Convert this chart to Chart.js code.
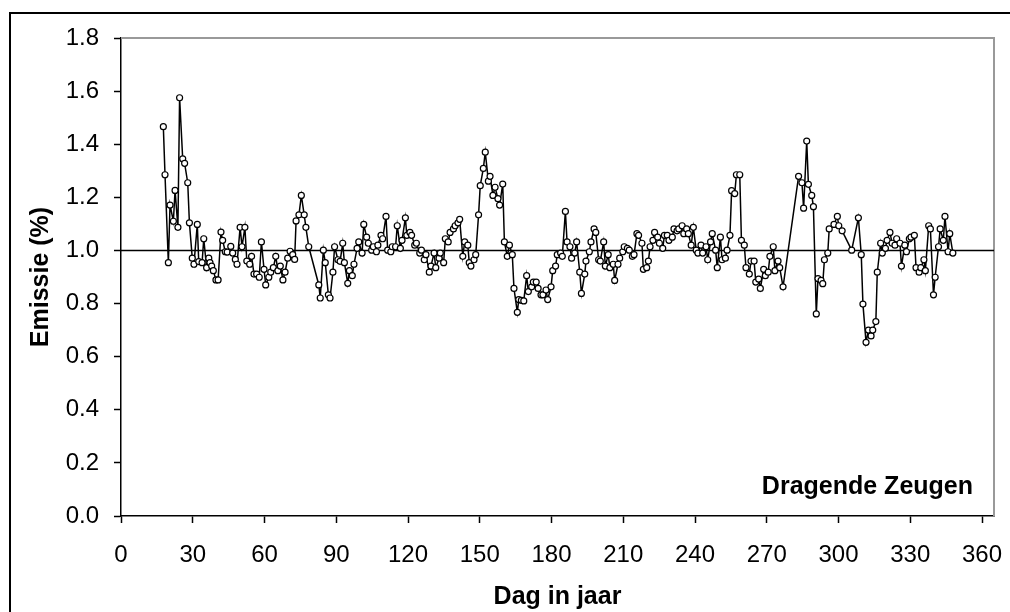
<!DOCTYPE html>
<html>
<head>
<meta charset="utf-8">
<script src="https://cdn.jsdelivr.net/npm/chart.js@4/dist/chart.umd.min.js"></script>
<style>
  body { margin: 0; background: #fff; }
  #wrap { position: relative; width: 1010px; height: 612px; overflow: hidden; }
  #frame { position: absolute; left: 9px; top: 12px; width: 1100px; height: 700px;
           border-top: 2px solid #000; border-left: 2px solid #000; }
  canvas { position: absolute; left: 0; top: 0; }
</style>
</head>
<body>
<div id="wrap">
  <div id="frame"></div>
  <canvas id="chart" width="1010" height="612"></canvas>
</div>
<script>
// dag in jaar
const days = [
  17.7, 18.4, 19.8, 20.5, 21.9, 22.6, 23.8, 24.5, 25.8, 26.6, 27.9, 28.6, 29.8, 30.5, 31.9, 32.5,
  33.9, 34.6, 35.8, 36.7, 37.2, 37.9, 38.6, 39.7, 40.6, 41.8, 42.5, 43.6, 44.4, 45.9, 46.7, 47.8,
  48.5, 49.8, 50.6, 51.8, 52.6, 53.8, 54.6, 55.6, 56.7, 57.8, 58.7, 59.8, 60.5, 61.8, 62.6, 63.7,
  64.7, 65.6, 66.6, 67.7, 68.6, 69.7, 70.7, 71.8, 72.6, 73.2, 74.4, 75.4, 76.6, 77.3, 78.5,
  82.7, 83.3, 84.6, 85.4, 86.7, 87.4, 88.6, 89.3, 90.7, 91.6, 92.7, 93.4, 94.8, 95.5, 96.7, 97.4,
  98.7, 99.4, 100.8, 101.5, 102.7, 103.4, 104.8, 105.5, 106.8, 107.4, 108.7, 109.4, 110.8, 111.5,
  112.8, 113.4, 114.8, 115.5, 116.8, 117.5, 118.9, 119.5, 120.8, 121.5, 122.8, 123.5, 124.9, 125.6,
  126.8, 127.5, 128.9, 129.6, 130.9, 131.6, 133.0, 133.5, 134.9, 135.6, 136.8, 137.6, 139.0, 139.7,
  140.9, 141.6, 142.9, 143.7, 145.0, 145.6, 146.3, 147.6, 148.3, 149.5, 150.2, 151.5, 152.3, 153.6,
  154.3, 155.5, 156.4, 157.6, 158.3, 159.6, 160.3, 161.5, 162.4, 163.6, 164.3, 165.7, 166.3, 167.4,
  168.4, 169.6, 170.3, 171.7, 172.4, 173.6, 174.4, 175.6, 176.4, 177.7, 178.4, 179.8, 180.5, 181.7,
  182.4, 183.8, 184.5, 185.8, 186.5, 187.7, 188.4, 189.7, 190.5, 191.8, 192.5, 193.9, 194.4, 195.8,
  196.5, 197.8, 198.5, 199.7, 200.4, 201.8, 202.5, 203.7, 204.4, 205.8, 206.4, 207.8, 208.5, 209.8,
  210.4, 211.7, 212.5, 213.8, 214.5, 215.7, 216.4, 217.8, 218.4, 219.8, 220.5, 221.2, 222.4, 223.1,
  224.4, 225.1, 226.5, 227.2, 228.4, 229.1, 230.5, 231.2, 232.5, 233.2, 234.6, 235.3, 236.5, 237.2,
  238.4, 239.3, 240.5, 241.2, 242.5, 243.2, 244.6, 245.3, 246.5, 247.2, 248.6, 249.3, 250.6, 251.3,
  252.7, 253.4, 254.6, 255.3, 256.6, 257.3, 258.7, 259.4, 260.6, 261.3, 262.7, 263.4, 264.7, 265.4,
  266.6, 267.3, 268.7, 269.4, 270.6, 271.3, 272.7, 273.4, 274.7, 275.4, 276.8,
  283.3, 284.7, 285.4, 286.7, 287.4, 288.8, 289.5, 290.7, 291.4, 292.7, 293.4, 294.1, 295.5, 296.1,
  298.1, 299.5, 300.1, 301.5, 305.5, 308.3, 309.5, 310.2, 311.5, 312.5, 313.6, 314.3, 315.6, 316.2,
  317.6, 318.3, 319.6, 320.3, 321.5, 322.4, 323.6, 324.3, 325.7, 326.3, 327.7, 328.4, 329.6, 330.3,
  331.7, 332.4, 333.7, 334.4, 335.7, 336.3, 337.7, 338.4, 339.7, 340.4, 341.8, 342.5, 343.8, 344.5,
  345.8, 346.5, 347.8
];

// emissie (%)
const emissie = [
  1.466, 1.285, 0.954, 1.171, 1.110, 1.226, 1.087, 1.575, 1.345, 1.328, 1.255, 1.104, 0.971, 0.948, 1.098, 0.958,
  0.954, 1.044, 0.935, 0.971, 0.954, 0.941, 0.924, 0.889, 0.889, 1.069, 1.038, 0.995, 0.994, 1.015, 0.990, 0.966,
  0.948, 1.087, 1.014, 1.087, 0.960, 0.948, 0.978, 0.911, 0.911, 0.899, 1.032, 0.929, 0.870, 0.899, 0.918, 0.935,
  0.978, 0.924, 0.941, 0.889, 0.918, 0.971, 0.997, 0.984, 0.966, 1.111, 1.134, 1.207, 1.134, 1.087, 1.014,
  0.870, 0.821, 1.001, 0.954, 0.833, 0.821, 0.918, 1.014, 0.965, 0.959, 1.027, 0.954, 0.876, 0.924, 0.905, 0.948,
  1.008, 1.032, 0.990, 1.098, 1.050, 1.027, 1.001, 1.014, 0.995, 1.020, 1.057, 1.044, 1.128, 1.001,
  0.995, 1.014, 1.014, 1.093, 1.008, 1.038, 1.123, 1.057, 1.068, 1.057, 1.020, 1.027, 0.990, 1.001,
  0.965, 0.984, 0.918, 0.941, 0.990, 0.935, 0.971, 0.990, 0.954, 1.044, 1.032, 1.068, 1.081, 1.093,
  1.104, 1.117, 0.978, 1.032, 1.020, 0.954, 0.941, 0.965, 0.984, 1.134, 1.244, 1.309, 1.370, 1.261,
  1.279, 1.207, 1.238, 1.195, 1.171, 1.250, 1.032, 0.978, 1.020, 0.984, 0.857, 0.767, 0.815, 0.812,
  0.810, 0.905, 0.845, 0.863, 0.881, 0.881, 0.857, 0.833, 0.833, 0.851, 0.815, 0.863, 0.924, 0.941,
  0.984, 0.990, 0.978, 1.147, 1.032, 1.014, 0.971, 0.990, 1.032, 0.918, 0.838, 0.911, 0.960, 0.995,
  1.032, 1.081, 1.068, 0.965, 0.960, 1.032, 0.941, 0.984, 0.935, 0.948, 0.887, 0.948, 0.971, 0.995,
  1.014, 1.008, 1.001, 0.978, 0.984, 1.063, 1.057, 1.027, 0.929, 0.935, 0.960, 1.014, 1.038, 1.068,
  1.050, 1.027, 1.008, 1.057, 1.057, 1.038, 1.050, 1.081, 1.074, 1.081, 1.093, 1.063, 1.081, 1.063,
  1.020, 1.087, 1.001, 0.990, 1.020, 0.990, 1.014, 0.965, 1.032, 1.063, 1.001, 0.935, 1.050, 0.965,
  0.971, 1.001, 1.057, 1.225, 1.214, 1.285, 1.285, 1.038, 1.020, 0.935, 0.911, 0.960, 0.960, 0.881,
  0.892, 0.857, 0.929, 0.905, 0.918, 0.978, 1.014, 0.924, 0.960, 0.935, 0.863,
  1.279, 1.255, 1.159, 1.412, 1.249, 1.207, 1.165, 0.761, 0.894, 0.887, 0.875, 0.965, 0.990, 1.081,
  1.098, 1.128, 1.093, 1.074, 1.001, 1.123, 0.984, 0.798, 0.654, 0.700, 0.678, 0.700, 0.732, 0.918,
  1.027, 0.990, 1.008, 1.038, 1.068, 1.027, 1.020, 1.044, 1.027, 0.941, 1.020, 0.995, 1.044, 1.050,
  1.057, 0.935, 0.918, 0.935, 0.965, 0.924, 1.093, 1.081, 0.833, 0.899, 1.014, 1.081, 1.038, 1.128,
  0.995, 1.063, 0.990
];

const xTicks = [0, 30, 60, 90, 120, 150, 180, 210, 240, 270, 300, 330, 360];
const yTicks = [0, 0.2, 0.4, 0.6, 0.8, 1.0, 1.2, 1.4, 1.6, 1.8];
const refLevel = 1.0;
const groupLabel = 'Dragende Zeugen';

const points = days.map((d, i) => ({ x: d, y: emissie[i] }));
const fontFam = '"Liberation Sans", Arial, sans-serif';

const extras = {
  id: 'extras',
  beforeDatasetsDraw(chart) {
    const { ctx, chartArea: a, scales } = chart;
    ctx.save();
    // grijze rand van plotgebied (boven en rechts)
    ctx.strokeStyle = '#999';
    ctx.lineWidth = 2;
    ctx.beginPath();
    ctx.moveTo(a.left, a.top);
    ctx.lineTo(a.right, a.top);
    ctx.lineTo(a.right, a.bottom);
    ctx.stroke();
    // referentielijn op 1.0
    const y = scales.y.getPixelForValue(refLevel);
    ctx.strokeStyle = '#000';
    ctx.lineWidth = 1.5;
    ctx.beginPath();
    ctx.moveTo(a.left, y);
    ctx.lineTo(a.right, y);
    ctx.stroke();
    ctx.restore();
  },
  afterDraw(chart) {
    const { ctx, chartArea: a } = chart;
    ctx.save();
    ctx.font = 'bold 25px ' + fontFam;
    ctx.fillStyle = '#000';
    ctx.textAlign = 'right';
    ctx.textBaseline = 'middle';
    ctx.fillText(groupLabel, a.right - 21, a.bottom - 29);
    ctx.restore();
  }
};

new Chart(document.getElementById('chart').getContext('2d'), {
  type: 'line',
  data: {
    datasets: [{
      data: points,
      borderColor: '#000',
      borderWidth: 1.5,
      pointRadius: 3,
      pointBorderWidth: 1.2,
      pointBackgroundColor: '#fff',
      pointBorderColor: '#000',
      tension: 0
    }]
  },
  options: {
    responsive: false,
    animation: false,
    devicePixelRatio: 1,
    layout: { padding: { left: 0, top: 38, right: 16, bottom: 0 } },
    plugins: { legend: { display: false }, tooltip: { enabled: false } },
    scales: {
      x: {
        type: 'linear',
        min: 0,
        max: 365,
        afterBuildTicks: s => { s.ticks = xTicks.map(v => ({ value: v })); },
        afterFit: s => { s.height = 96; s.paddingLeft = 0; s.paddingRight = 0; },
        ticks: {
          color: '#000',
          font: { family: fontFam, size: 24 },
          padding: 18,
          maxRotation: 0
        },
        grid: { drawOnChartArea: false, drawTicks: true, tickLength: 7, tickColor: '#000', tickWidth: 1.5 },
        border: { color: '#000', width: 1.5 },
        title: {
          display: true,
          text: 'Dag in jaar',
          color: '#000',
          font: { family: fontFam, size: 25, weight: 'bold' },
          padding: { top: 0, bottom: 0 }
        }
      },
      y: {
        min: 0,
        max: 1.8,
        afterBuildTicks: s => { s.ticks = yTicks.map(v => ({ value: v })); },
        afterFit: s => { s.width = 121; s.paddingTop = 0; s.paddingBottom = 0; },
        ticks: {
          color: '#000',
          font: { family: fontFam, size: 24 },
          padding: 15,
          callback: v => v.toFixed(1)
        },
        grid: { drawOnChartArea: false, drawTicks: true, tickLength: 7, tickColor: '#000', tickWidth: 1.5 },
        border: { color: '#000', width: 1.5 },
        title: {
          display: true,
          text: 'Emissie (%)',
          color: '#000',
          font: { family: fontFam, size: 25, weight: 'bold' },
          padding: { top: 26, bottom: 0 }
        }
      }
    }
  },
  plugins: [extras]
});
</script>
</body>
</html>
